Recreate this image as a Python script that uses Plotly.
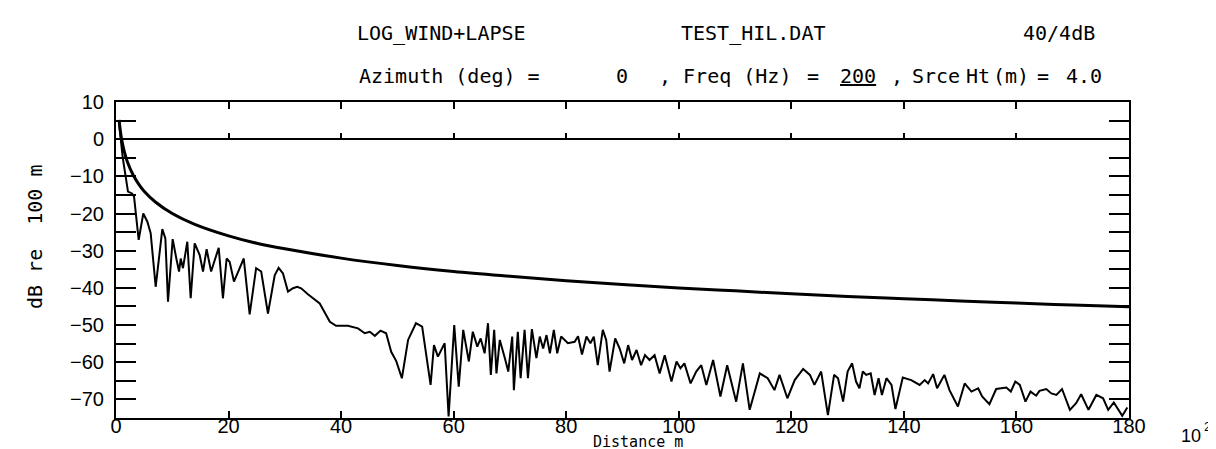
import plotly.graph_objects as go

# ---- data ----
smooth_x = [0.55, 0.8, 1, 1.5, 2, 3, 4, 5, 7, 10, 14, 20, 25, 30, 40, 50, 60, 70, 80,
            90, 100, 110, 120, 130, 140, 150, 160, 170, 180]
smooth_y = [5.2, 1.9, 0, -3.5, -6, -9.5, -12, -14, -16.9, -20, -22.9, -26, -28, -29.5,
            -32, -34, -35.6, -36.9, -38.1, -39.1, -40, -40.8, -41.6, -42.3, -42.9,
            -43.5, -44.1, -44.6, -45.1]

noisy_x = [0.5, 1.2, 2.13, 2.84, 3.2, 4.03, 4.85, 5.57, 6.16, 7.05, 8.23, 8.77, 9.24,
           10.07, 10.72, 11.2, 11.5, 11.9, 12.67, 13.27, 13.98, 14.87, 15.46, 16.1,
           16.9, 17.65, 18.25, 19.0, 19.66, 20.2, 20.96, 21.98, 22.7, 23.75, 24.9,
           25.8, 27.0, 28.2, 28.9, 29.67, 30.56, 31.45, 32.2, 32.9, 34.1, 36.2, 38.0,
           39.1, 41.2, 43.0, 44.2, 45.1, 46.0, 47.0, 48.0, 48.9, 49.8, 50.8, 51.9,
           53.3, 54.4, 55.9, 56.5, 57.2, 58.4, 59.1, 60.1, 60.9, 61.7, 62.7, 63.4,
           64.2, 64.8, 65.5, 66.1, 66.6, 67.2, 67.6, 68.2, 69.1, 69.7, 70.4, 70.7,
           71.4, 71.9, 72.6, 73.2, 73.9, 74.7, 75.3, 75.9, 76.5, 77.1, 77.8, 78.4,
           79.1, 80.3, 81.5, 82.1, 82.8, 83.6, 84.3, 84.9, 85.6, 86.5, 87.1, 87.7,
           88.7, 89.5, 90.3, 91.0, 91.7, 92.5, 93.3, 94.0, 94.8, 95.7, 96.6, 97.5,
           98.7, 99.6, 100.3, 101.0, 102.1, 103.1, 104.0, 104.9, 106.1, 107.4, 108.6,
           110.2, 111.4, 112.6, 114.4, 115.8, 117.0, 117.9, 119.3, 120.6, 122.1,
           123.3, 124.1, 125.3, 126.5, 127.6, 128.3, 129.2, 130.0, 130.8, 131.5,
           132.1, 132.7, 133.3, 134.1, 134.8, 135.5, 136.1, 136.9, 137.8, 138.5,
           139.8, 141.3, 142.8, 143.7, 144.3, 145.2, 145.9, 147.2, 148.1, 149.6,
           150.8, 152.0, 153.2, 153.9, 155.2, 156.4, 158.2, 159.0, 159.8, 160.6,
           161.6, 162.5, 163.5, 164.1, 165.3, 166.2, 167.1, 168.1, 169.5, 170.6,
           171.5, 172.8, 174.2, 175.4, 176.3, 177.3, 178.8, 179.7]
noisy_y = [5, -5, -14.1, -14.6, -15.4, -27.1, -20, -22.2, -25.3, -39.7, -24.2, -26.7,
           -43.7, -26.9, -32.1, -35.6, -32.1, -34.7, -27.6, -42.8, -28, -31.2, -35.6,
           -29.6, -35.6, -32.1, -29.2, -42.8, -32.1, -33, -38.3, -34.7, -32.1, -47.1,
           -34.7, -35.6, -46.9, -36.6, -34.6, -36.1, -41, -40.1, -39.7, -40.1, -41.7,
           -44.2, -49.1, -50.2, -50.2, -50.9, -52.2, -51.8, -52.9, -51.5, -52.2,
           -57.2, -59.7, -64.3, -54, -49.5, -50.4, -66.1, -55.4, -58.5, -54.9, -74.6,
           -50, -66.6, -51.3, -59.8, -51.8, -55.8, -53.6, -57.6, -49.5, -63.4, -51.3,
           -63, -54, -58.9, -62.5, -53.1, -67.5, -51.8, -64.3, -51.3, -64.3, -51.1,
           -58.9, -53.1, -56.3, -52.7, -57.6, -51.3, -57.6, -53.1, -54.9, -54.5, -53,
           -57.9, -53.1, -54.9, -53.1, -60.8, -51.3, -54, -62.5, -53.6, -56.3, -60.3,
           -55.4, -59.4, -56.7, -60.8, -58.1, -59.4, -58.1, -63, -58.1, -65.2, -59.8,
           -61.6, -60.3, -65.7, -62.5, -60.8, -66.1, -59.4, -69.2, -60.8, -70.6,
           -60.3, -72.8, -63, -64.3, -67.5, -63.4, -69.7, -64.8, -61.8, -63.4, -66.1,
           -62.5, -74.2, -63.4, -64.3, -70.6, -62.5, -60.3, -65.2, -67, -62.5, -63.4,
           -63, -68.8, -64.3, -68.8, -64.3, -66.1, -72.6, -64.1, -64.8, -66.1, -64.8,
           -65.7, -63.2, -67, -63.4, -67.5, -71.9, -65.7, -67.9, -67, -69.2, -71.3,
           -67.2, -66.8, -67.9, -65.2, -66.1, -70.6, -67.9, -69, -67.7, -67.2, -68.4,
           -68.8, -67.2, -72.8, -71, -68.6, -72.8, -68.8, -69.7, -72.8, -70.8, -74.4,
           -72.2]

x_ticks = [0, 20, 40, 60, 80, 100, 120, 140, 160, 180]
y_ticks = [10, 0, -10, -20, -30, -40, -50, -60, -70]
y_minor = [5, -5, -15, -25, -35, -45, -55, -65, -75]

# ---- layout helpers (pixel -> paper) ----
L, R, T, B = 108, 1121, 94, 410
def px(x):
    return (x - L) / (R - L)
def py(y):
    return (B - y) / (B - T)

fig = go.Figure()
fig.add_trace(go.Scatter(x=smooth_x, y=smooth_y, mode="lines",
                         line=dict(color="black", width=3, shape="spline", smoothing=1.0),
                         showlegend=False, hoverinfo="skip"))
fig.add_trace(go.Scatter(x=noisy_x, y=noisy_y, mode="lines",
                         line=dict(color="black", width=2),
                         showlegend=False, hoverinfo="skip"))
# invisible traces to materialise extra tick axes (right side, zero line)
fig.add_trace(go.Scatter(x=[0], y=[0], yaxis="y2", mode="markers",
                         marker=dict(opacity=0), showlegend=False, hoverinfo="skip"))
fig.add_trace(go.Scatter(x=[0], y=[0], xaxis="x2", mode="markers",
                         marker=dict(opacity=0), showlegend=False, hoverinfo="skip"))

tickfont = dict(family="Liberation Sans, Arial, sans-serif", size=20, color="black")
mono = "DejaVu Sans Mono, monospace"
sans = "Liberation Sans, Arial, sans-serif"

fig.update_layout(
    width=1216, height=449,
    margin=dict(l=L, r=1216 - R, t=T, b=449 - B, pad=0),
    paper_bgcolor="white", plot_bgcolor="white",
    xaxis=dict(range=[0, 180], tickvals=x_ticks, ticktext=[str(v) for v in x_ticks],
               ticks="inside", ticklen=7, tickwidth=2, tickcolor="black",
               showline=True, linewidth=2, linecolor="black", mirror="ticks",
               showgrid=False, zeroline=False, tickfont=tickfont, ticklabelstandoff=-11),
    xaxis2=dict(range=[0, 180], overlaying="x", anchor="free", side="bottom",
                position=(0 - (-75)) / 85.0, tickvals=x_ticks, ticks="inside",
                ticklen=6, tickwidth=2, tickcolor="black", showticklabels=False,
                showgrid=False, zeroline=False, showline=False),
    yaxis=dict(range=[-75, 10], tickvals=y_ticks,
               ticktext=[str(v).replace("-", "\u2212") for v in y_ticks],
               ticks="inside", ticklen=20, tickwidth=2, tickcolor="black",
               minor=dict(tickvals=y_minor, ticks="inside", ticklen=20, tickwidth=2,
                          tickcolor="black"),
               showline=True, linewidth=2, linecolor="black", mirror=True,
               showgrid=False, zeroline=True, zerolinecolor="black", zerolinewidth=2,
               tickfont=tickfont, ticklabelstandoff=6),
    yaxis2=dict(range=[-75, 10], overlaying="y", side="right", anchor="x",
                tickvals=y_ticks + y_minor,
                ticks="inside", ticklen=20, tickwidth=2, tickcolor="black",
                showticklabels=False, showgrid=False, zeroline=False, showline=False),
)

ann = []
def add(text, x, y, xanchor="left", size=20, family=mono, yanchor="middle"):
    ann.append(dict(text=text, x=px(x), y=py(y), xref="paper", yref="paper",
                    xanchor=xanchor, yanchor=yanchor, showarrow=False, borderpad=0,
                    font=dict(family=family, size=size, color="black")))

# title lines
add("LOG_WIND+LAPSE", 348, 25)
add("TEST_HIL.DAT", 672, 25)
add("40/4dB", 1088, 25, xanchor="right")
add("Azimuth (deg) =", 350, 68)
add("0", 614, 68, xanchor="center")
add(", Freq (Hz)", 650, 68)
add("=", 805, 68, xanchor="center")
add("<u>200</u>", 850, 68, xanchor="center")
add(",", 889, 68, xanchor="center")
add("Srce", 903, 68)
add("Ht", 957, 68)
add("(m)", 984, 68)
add("=", 1035, 68, xanchor="center")
add("4.0", 1057, 68)
# axis texts
add("Distance m", 630, 434, xanchor="center", size=15)
add("10", 1183, 428, xanchor="center", size=18, family=sans)
add("2", 1199, 418, xanchor="center", size=13, family=sans)
ann.append(dict(text="dB re  100 m", x=px(27), y=py(229), xref="paper", yref="paper",
                xanchor="center", yanchor="middle", showarrow=False, textangle=-90,
                font=dict(family=mono, size=20, color="black")))
fig.update_layout(annotations=ann)

fig.write_html("out.html")
